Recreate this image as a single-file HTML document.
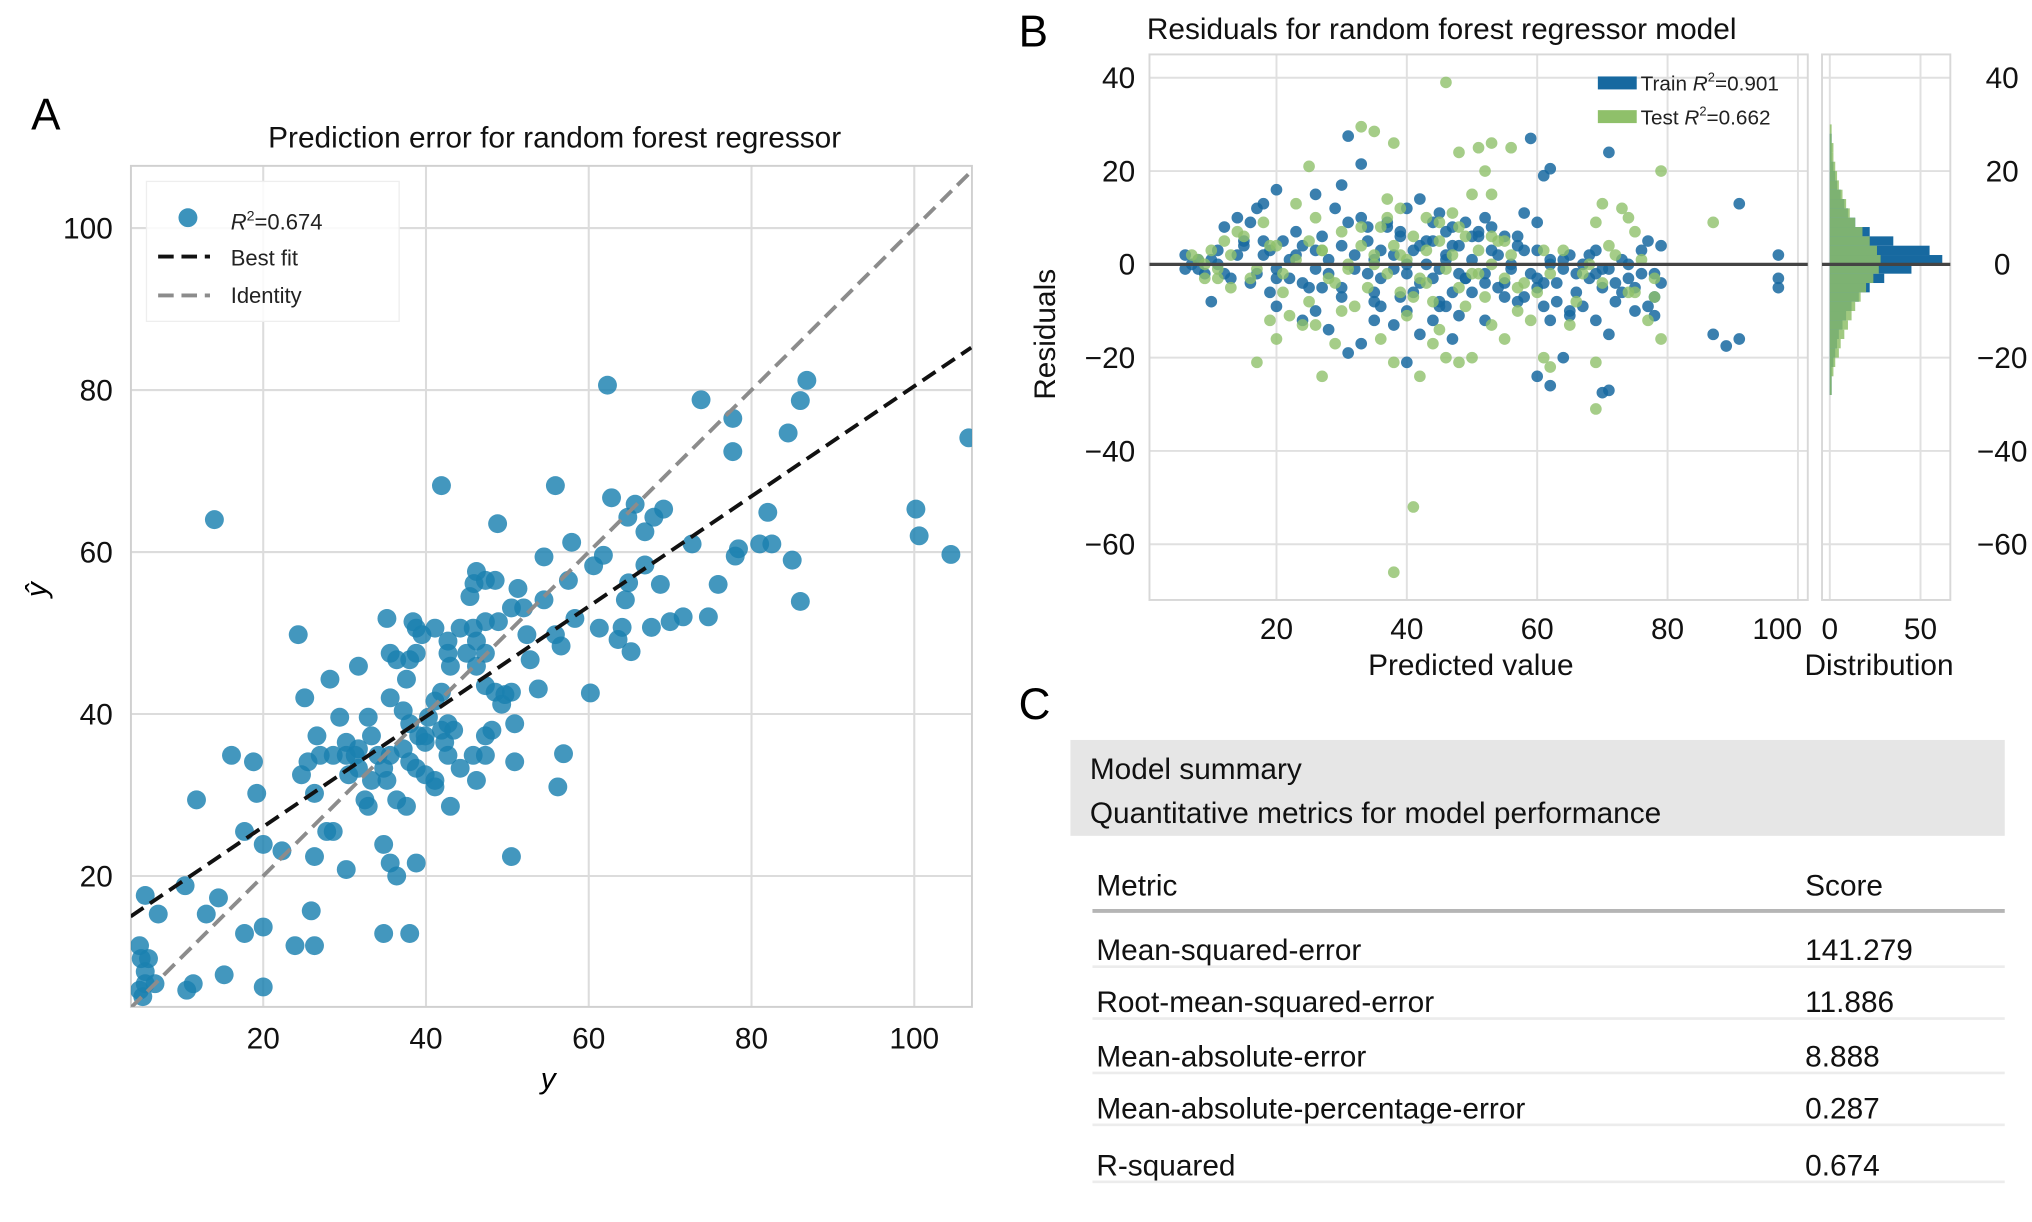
<!DOCTYPE html>
<html><head><meta charset="utf-8">
<style>
html,body{margin:0;padding:0;background:#fff;}
svg{display:block;font-family:"Liberation Sans",sans-serif;}
</style></head>
<body>
<svg id="fig" width="2032" height="1222" viewBox="0 0 1568 943" xmlns="http://www.w3.org/2000/svg">
<rect width="1568" height="943" fill="#fff"/>
<g id="panelA"></g>
<g id="panelB"></g>
<g id="panelC">
  <text x="786" y="555" font-size="34">C</text>
  <rect x="826" y="571" width="721" height="74" fill="#e6e6e6"/>
  <text x="841" y="601" font-size="23" fill="#111">Model summary</text>
  <text x="841" y="635" font-size="23" fill="#111">Quantitative metrics for model performance</text>
  <text x="846" y="691" font-size="23" fill="#111">Metric</text>
  <text x="1393" y="691" font-size="23" fill="#111">Score</text>
  <line x1="843" y1="703" x2="1547" y2="703" stroke="#b5b5b5" stroke-width="3"/>
  <g id="rows"></g>
</g>
<script>
// ---------- Panel A data ----------
const actualY = [14,41.9,55.9,62.3,73.8,77.7,77.7,84.5,86.8,86,106.7,100.2,100.6,104.5,85,86,82,81,82.5,78.4,78,75.9,74.7,72.7,71.6,70,67.7,69.2,68,66.9,66.9,68.8,65.7,64.8,62.8,64.9,64.1,63.6,65.2,64.5,61.8,60.6,61.3,57.9,57.5,58.3,54.5,54.5,55.9,56.6,53.8,60.2,56.9,56.2,51.3,52,50.5,52.4,52.8,50.5,50.9,50.9,50.5,48.8,46.2,45.9,45.4,47.3,48.5,47.3,48.9,45.8,46.2,47.3,45,46.2,47.3,48.5,49.7,49.3,48.1,47.3,45.8,47.3,46.2,44.2,44.2,42.7,42.7,43,41.9,41.1,40.3,41.9,42.3,43.4,42.7,43,41.1,39.5,38.8,38.4,38.8,38,37.6,36.4,35.6,35.2,35.6,37.2,38,39.1,39.9,38.8,39.9,41.1,41.1,37.2,35.6,34.1,34.8,33.3,32.5,32.9,31.7,31.7,30.2,30.2,28.6,27,25.5,26.6,29.4,31.7,28.2,25.1,24.3,24.7,26.3,27.8,28.6,30.2,34.8,35.6,36.4,38.8,38,34.8,26.3,25.9,26.3,23.9,20,22.3,20,17.7,18.8,19.2,16.1,17.7,15.2,14.5,13,11.8,10.4,7.1,5.5,11.4,10.6,20,6.7,5.5,5,4.8,5.2,4.8,5.9,5.5,33.3,31.3,30.5,35.2,36.4,37.6,42.7,38,39.9,32.9];
const predY = [64,68.2,68.2,80.6,78.8,76.5,72.4,74.7,81.2,78.7,74.1,65.3,62,59.7,59,53.9,64.9,61,61,60.4,59.5,56,52,61,52,51.4,50.7,65.3,64.3,62.5,58.4,56,65.9,64.3,66.7,56.2,50.7,49.2,47.7,54.1,59.6,58.3,50.6,61.2,56.5,51.8,59.4,54.1,49.8,48.4,43.1,42.6,35.1,31,55.5,53.1,53.1,49.8,46.7,42.7,38.8,34.1,22.4,63.5,57.6,56.1,54.5,56.5,56.5,51.4,51.4,50.6,49,47.5,47.5,45.9,43.5,42.7,42.4,41.2,38,37.3,34.9,34.9,31.8,33.3,50.6,49,47.5,45.9,42.7,41.6,39.6,38,36.5,38,34.9,28.6,50.6,49.8,50.6,51.4,47.5,46.7,44.3,46.7,47.5,51.8,42,40.4,38.8,37.3,36.5,33.3,32.5,31.8,31,35.7,34.9,34.9,33.3,31.8,29.4,28.6,33.3,35.7,34.9,36.5,34.9,34.9,34.1,37.3,39.6,45.9,44.3,42,49.8,32.5,30.2,25.5,25.5,20.8,23.9,21.6,20,21.6,12.9,12.9,22.4,15.7,11.4,11.4,13.7,23.1,23.9,25.5,34.1,30.2,34.9,12.9,7.8,17.3,15.3,29.4,18.8,15.3,17.6,6.7,5.9,6.3,6.7,8.2,9.8,11.4,5.1,5.9,9.8,6.7,37.3,34.9,32.5,31.8,29.4,28.6,38.8,34.1,37.3,39.6];
const bestFit = [15, 0.68];
const ticksA = [20,40,60,80,100];
// ---------- Panel B data ----------
const trainPred = [31,33,59,61,62,71,91,97,97,97,87,89,91,70,71,60,62,64,71,40,31,33,20,30,26,18,17,12,10,14,16,42,40,44,47,52,58,60,55,77,79,78,78,75,75,69,65,63,60,55,50,45,40,35,30,25,22,20,18,8,7,6,6,9,11,13,15,17,19,21,23,24,26,27,28,30,32,34,35,36,38,39,40,41,42,43,44,45,46,47,48,49,50,51,52,53,54,56,57,58,59,60,61,62,63,64,65,66,67,68,69,70,71,72,73,74,76,77,79,42,44,46,38,36,28,26,24,20,33,37,45,49,53,29,35,48,52,57,34,46,39,47,62,67,8,10,12,14,16,18,20,22,24,26,28,30,32,34,36,38,40,42,44,46,48,50,52,54,56,58,60,62,64,66,68,70,72,74,76,78,37,41,43,45,47,49,51,39,35,31,27,23,19,15,11,55,57,61,65,69,73];
const trainRes = [27.5,21.5,27,19,20.5,24,13,2,-3,-5,-15,-17.5,-16,-27.5,-27,-24,-26,-20,-15,-21,-19,-17,16,17,15,13,12,8,-8,10,9,14,12,9,8,10,11,9,6,5,4,-7,-11,-10,-5,-12,-10,-8,-5,-4,-6,-8,-10,-12,-7,-5,-3,-1,2,1,0,2,-1,-2,3,-3,4,-2,3,5,2,-4,3,6,-2,4,-1,5,1,-3,2,6,-2,3,-4,0,5,-1,2,-6,4,-3,1,7,-2,3,-5,0,4,-7,-2,3,-9,1,-4,-1,2,-6,0,-3,3,-5,-1,-8,1,-3,-2,-9,-4,-15,-12,-9,-13,-9,-14,-10,-12,-9,10,9,11,9,8,12,-6,-11,-12,-8,8,7,-7,-16,-12,-9,-1,1,-2,2,-4,5,-3,1,4,-1,1,-5,2,-2,3,-1,0,4,-3,1,-2,6,-4,2,-1,3,-3,0,1,-2,2,-1,-4,0,3,-2,8,-6,5,-9,4,-3,6,7,-8,9,-5,7,-6,5,0,-7,6,-4,-11,-2,-6];
const testPred = [46,33,35,38,53,51,56,48,52,79,50,53,25,14,23,26,37,39,43,48,70,73,74,69,75,87,17,27,38,42,41,38,69,69,61,62,46,48,50,55,53,44,36,20,19,22,24,9,8,7,10,11,12,13,15,16,18,20,21,23,25,27,28,30,31,32,33,34,35,36,37,38,39,40,41,42,43,44,45,46,47,48,49,50,51,52,53,54,55,56,57,58,60,62,64,66,68,70,72,74,76,78,79,77,78,65,59,45,40,30,26,29,9,11,13,17,19,21,25,29,33,37,41,45,49,53,57,61,67,71,75,35,39,43,47,51,55,31,27];
const testRes = [39,29.5,28.5,26,26,25,25,24,20,20,15,15,21,7,13,10,14,12,10,8,13,12,10,9,7,9,-21,-24,-21,-24,-52,-66,-31,-21,-20,-22,-20,-21,-20,-16,-13,-17,-16,-16,-12,-11,-13,-3,1,2,3,-1,5,-5,6,-3,9,4,-6,1,-8,3,-3,7,0,-9,4,-5,2,8,-2,4,-6,1,6,-3,3,-8,5,-1,2,-5,6,-2,3,-7,0,5,-3,2,-10,-4,-6,-2,3,-8,0,-4,2,-6,1,-3,-16,-12,-7,-13,-12,-14,-11,-10,-13,-17,0,-3,2,-1,4,-2,5,-4,8,10,-7,9,-9,6,-5,3,-2,4,-6,0,2,-4,11,-2,5,-1,3];
const histBins = [-29,-27,-25,-23,-21,-19,-17,-15,-13,-11,-9,-7,-5,-3,-1,1,3,5,7,9,11,13,15,17,19,21,23,25,27,29];
const trainCounts = [0,1,1,1,2,3,4,5,7,9,12,16,22,30,45,62,55,35,22,14,10,8,6,4,3,2,1,1,1,0];
const testCounts = [0,1,1,2,3,5,6,8,10,12,14,17,20,24,27,28,26,22,18,14,11,9,7,5,4,3,2,2,1,1];
const ticksBx = [20,40,60,80,100];
const ticksBy = [40,20,0,-20,-40,-60];
const metricNames = ["Mean-squared-error","Root-mean-squared-error","Mean-absolute-error","Mean-absolute-percentage-error","R-squared"];
const metricScores = ["141.279","11.886","8.888","0.287","0.674"];

const NS="http://www.w3.org/2000/svg";
function mk(parent,tag,attrs,txt){const e=document.createElementNS(NS,tag);for(const k in attrs)e.setAttribute(k,attrs[k]);if(txt!==undefined)e.textContent=txt;parent.appendChild(e);return e;}
function r2text(parent,x,y,fs,prefix,val){
  const t=mk(parent,'text',{x:x,y:y,'font-size':fs,fill:'#222'});
  if(prefix) mk(t,'tspan',{},prefix);
  mk(t,'tspan',{'font-style':'italic'},'R');
  mk(t,'tspan',{'font-size':Math.round(fs*0.62),dy:-7},'2');
  mk(t,'tspan',{dy:7},'='+val);
  return t;
}

// ---------- Panel A ----------
const A=document.getElementById('panelA');
const axL=101,axR=750,axT=128,axB=777;
const ax=v=>77.5+v*6.28, ay=v=>801-v*6.25;
let t;
t=mk(A,'text',{x:24,y:100,'font-size':34},'A');


t=mk(A,'text',{x:428,y:114,'font-size':23,'text-anchor':'middle',fill:'#111'},'Prediction error for random forest regressor');


const clipA=mk(A,'clipPath',{id:'clipA'});mk(clipA,'rect',{x:axL,y:axT,width:axR-axL,height:axB-axT});
ticksA.forEach(v=>{
  let g=mk(A,'line',{x1:ax(v),x2:ax(v),y1:axT,y2:axB,stroke:'#dcdcdc','stroke-width':1.6});
  
  
  g=mk(A,'line',{x1:axL,x2:axR,y1:ay(v),y2:ay(v),stroke:'#dcdcdc','stroke-width':1.6});
  
  
  let l=mk(A,'text',{x:ax(v),y:axB+32,'font-size':23,'text-anchor':'middle',fill:'#111'},v);
  
  
  l=mk(A,'text',{x:axL-14,y:ay(v)+8,'font-size':23,'text-anchor':'end',fill:'#111'},v);
  
  
});
let fr=mk(A,'rect',{x:axL,y:axT,width:axR-axL,height:axB-axT,fill:'none',stroke:'#d0d0d0','stroke-width':1.5});


const ptsA=mk(A,'g',{'clip-path':'url(#clipA)'});


actualY.forEach((x,i)=>{
  const c=mk(ptsA,'circle',{cx:ax(x),cy:ay(predY[i]),r:7.3,fill:'#1a80b0','fill-opacity':0.82});
  
  
});
const xmin=3.7,xmax=107;
let ln=mk(ptsA,'line',{x1:ax(xmin),y1:ay(xmin),x2:ax(xmax),y2:ay(xmax),stroke:'#8c8c8c','stroke-width':3,'stroke-dasharray':'12 6'});


const bf=x=>bestFit[0]+bestFit[1]*(x-xmin);
ln=mk(ptsA,'line',{x1:ax(xmin),y1:ay(bf(xmin)),x2:ax(xmax),y2:ay(bf(xmax)),stroke:'#111','stroke-width':3,'stroke-dasharray':'12 6'});


const lg=mk(A,'g',{});


mk(lg,'rect',{x:113,y:140,width:195,height:108,fill:'#fff','fill-opacity':0.85,stroke:'#eee'});
mk(lg,'circle',{cx:145,cy:168,r:7.3,fill:'#1a80b0','fill-opacity':0.85});
r2text(lg,178,177,17,'','0.674');
mk(lg,'line',{x1:122,x2:162,y1:198,y2:198,stroke:'#111','stroke-width':3,'stroke-dasharray':'12 6'});
mk(lg,'text',{x:178,y:205,'font-size':17,fill:'#222'},'Best fit');
mk(lg,'line',{x1:122,x2:162,y1:228,y2:228,stroke:'#8c8c8c','stroke-width':3,'stroke-dasharray':'12 6'});
mk(lg,'text',{x:178,y:234,'font-size':17,fill:'#222'},'Identity');
t=mk(A,'text',{x:423,y:840,'font-size':23,'font-style':'italic','text-anchor':'middle'},'y');


t=mk(A,'text',{x:0,y:0,'font-size':23,'font-style':'italic','text-anchor':'middle',transform:'translate(36,455) rotate(-90)'},'ŷ');



// ---------- Panel B ----------
const B=document.getElementById('panelB');
const bL=887,bR=1395,bT=42,bB=463,hL=1406,hR=1505;
const bx=v=>884.4+v*5.03, by=v=>204-v*3.6, hx=v=>1412+v*1.4;
t=mk(B,'text',{x:786,y:36,'font-size':34},'B');


t=mk(B,'text',{x:885,y:30,'font-size':23,fill:'#111'},'Residuals for random forest regressor model');


ticksBx.forEach(v=>{
  let g=mk(B,'line',{x1:bx(v),x2:bx(v),y1:bT,y2:bB,stroke:'#e0e0e0','stroke-width':1.5});
  
  
  let l=mk(B,'text',{x:bx(v)-(v===100?16:0),y:bB+30,'font-size':23,'text-anchor':'middle',fill:'#111'},v);
  
  
});
ticksBy.forEach(v=>{
  let g=mk(B,'line',{x1:bL,x2:bR,y1:by(v),y2:by(v),stroke:'#e0e0e0','stroke-width':1.5});
  
  
  g=mk(B,'line',{x1:hL,x2:hR,y1:by(v),y2:by(v),stroke:'#e0e0e0','stroke-width':1.5});
  
  
  const s=v<0?'\u2212'+(-v):''+v;
  let l=mk(B,'text',{x:876,y:by(v)+8,'font-size':23,'text-anchor':'end',fill:'#111'},s);
  
  
  l=mk(B,'text',{x:1545,y:by(v)+8,'font-size':23,'text-anchor':'middle',fill:'#111'},s);
  
  
});
[0,50].forEach(v=>{
  let g=mk(B,'line',{x1:hx(v),x2:hx(v),y1:bT,y2:bB,stroke:'#e0e0e0','stroke-width':1.5});
  
  
  let l=mk(B,'text',{x:hx(v),y:bB+30,'font-size':23,'text-anchor':'middle',fill:'#111'},v);
  
  
});
fr=mk(B,'rect',{x:bL,y:bT,width:bR-bL,height:bB-bT,fill:'none',stroke:'#d8d8d8','stroke-width':1.5});


fr=mk(B,'rect',{x:hL,y:bT,width:hR-hL,height:bB-bT,fill:'none',stroke:'#d8d8d8','stroke-width':1.5});


const clipB=mk(B,'clipPath',{id:'clipB'});mk(clipB,'rect',{x:bL,y:bT,width:bR-bL,height:bB-bT});
const gB=mk(B,'g',{'clip-path':'url(#clipB)'});


trainPred.forEach((x,i)=>{
  const c=mk(gB,'circle',{cx:bx(x),cy:by(trainRes[i]),r:4.5,fill:'#1769a0','fill-opacity':0.85});
  
  
});
testPred.forEach((x,i)=>{
  const c=mk(gB,'circle',{cx:bx(x),cy:by(testRes[i]),r:4.5,fill:'#8fc06a','fill-opacity':0.8});
  
  
});
histBins.forEach((b,i)=>{
  const y=by(b+1), h=by(b-1)-by(b+1);
  let r=mk(B,'rect',{x:hx(0),y:y,width:hx(trainCounts[i])-hx(0),height:h,fill:'#1769a0'});
  
  
});
histBins.forEach((b,i)=>{
  const y=by(b+1), h=by(b-1)-by(b+1);
  let r=mk(B,'rect',{x:hx(0),y:y,width:hx(testCounts[i])-hx(0),height:h,fill:'#8fc06a','fill-opacity':0.85});
  
  
});
ln=mk(B,'line',{x1:bL,x2:bR,y1:by(0),y2:by(0),stroke:'#444','stroke-width':2.5});


ln=mk(B,'line',{x1:hL,x2:hR,y1:by(0),y2:by(0),stroke:'#444','stroke-width':2.5});


const lgB=mk(B,'g',{});


mk(lgB,'rect',{x:1233,y:59,width:30,height:10,fill:'#1769a0'});
r2text(lgB,1266,70,16,'Train ','0.901');
mk(lgB,'rect',{x:1233,y:85,width:30,height:10,fill:'#8fc06a'});
r2text(lgB,1266,96,16,'Test ','0.662');
t=mk(B,'text',{x:1135,y:521,'font-size':23,'text-anchor':'middle',fill:'#111'},'Predicted value');


t=mk(B,'text',{x:1450,y:521,'font-size':23,'text-anchor':'middle',fill:'#111'},'Distribution');


t=mk(B,'text',{x:0,y:0,'font-size':23,'text-anchor':'middle',fill:'#111',transform:'translate(814,258) rotate(-90)'},'Residuals');



// ---------- Panel C ----------
const R=document.getElementById('rows');
metricNames.forEach((n,i)=>{
  const base=[733,773,815,855,899][i];
  let e=mk(R,'text',{x:846,y:base+8,'font-size':23,fill:'#111'},n);
  
  
  e=mk(R,'text',{x:1393,y:base+8,'font-size':23,fill:'#111'},metricScores[i]);
  
  
  e=mk(R,'line',{x1:843,x2:1547,y1:base+13,y2:base+13,stroke:'#ececec','stroke-width':2});
  
  
});
</script>
</svg>
</body></html>
